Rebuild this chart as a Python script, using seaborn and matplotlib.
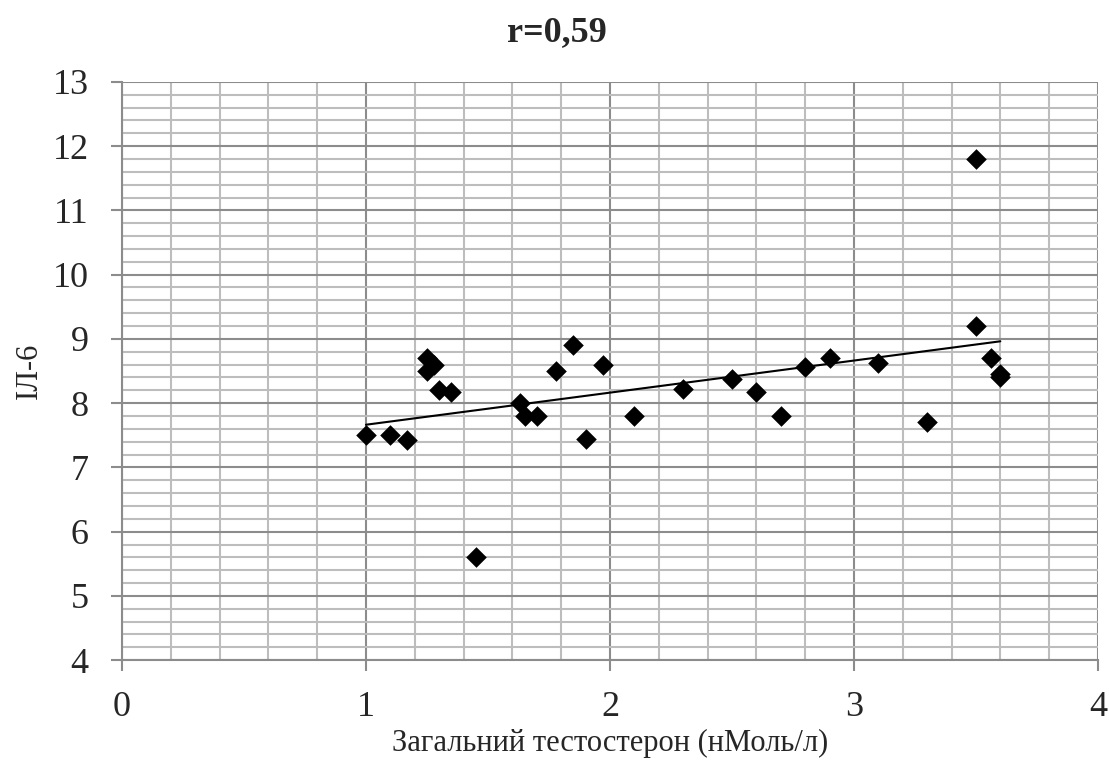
import numpy as np
import pandas as pd
import matplotlib
matplotlib.use("Agg")
import matplotlib.pyplot as plt
import seaborn as sns
from matplotlib.ticker import MultipleLocator

testosterone = [1.00, 1.10, 1.17, 1.25, 1.25, 1.28, 1.30, 1.35, 1.45, 1.63, 1.65, 1.70,
                1.78, 1.85, 1.90, 1.97, 2.10, 2.30, 2.50, 2.60, 2.70, 2.80, 2.90, 3.10,
                3.30, 3.50, 3.50, 3.56, 3.60, 3.60]
il6 = [7.50, 7.50, 7.42, 8.70, 8.50, 8.60, 8.20, 8.18, 5.60, 8.00, 7.80, 7.80,
       8.50, 8.90, 7.44, 8.60, 7.80, 8.22, 8.38, 8.18, 7.80, 8.56, 8.70, 8.62,
       7.70, 11.80, 9.20, 8.70, 8.45, 8.40]

title = "r=0,59"
xlabel = "Загальний тестостерон (нМоль/л)"
ylabel = "ІЛ-6"

df = pd.DataFrame({"x": testosterone, "y": il6})

sns.set_theme(style="white")
plt.rcParams["font.family"] = ["Liberation Serif", "DejaVu Serif"]

fig = plt.figure(figsize=(11.09, 7.65), dpi=100)
ax = fig.add_axes([0.110, 0.137, 0.880, 0.756])

sns.scatterplot(data=df, x="x", y="y", marker="D", s=110, color="black",
                edgecolor="black", linewidth=0, ax=ax, zorder=4)

# linear trend line
k, b = np.polyfit(df["x"], df["y"], 1)
xs = np.array([df["x"].min(), df["x"].max()])
ax.plot(xs, k * xs + b, color="black", lw=1.5, zorder=3)

ax.set_xlim(0, 4)
ax.set_ylim(4, 13)
ax.xaxis.set_major_locator(MultipleLocator(1))
ax.xaxis.set_minor_locator(MultipleLocator(0.2))
ax.yaxis.set_major_locator(MultipleLocator(1))
ax.yaxis.set_minor_locator(MultipleLocator(0.2))
ax.grid(which="major", color="#8c8c8c", lw=1.5, zorder=0)
ax.grid(which="minor", color="#bdbdbd", lw=1.5, zorder=0)
ax.set_axisbelow(True)

for s in ["top", "right"]:
    ax.spines[s].set_visible(False)
for s in ["left", "bottom"]:
    ax.spines[s].set_color("#8c8c8c")
    ax.spines[s].set_linewidth(1.5)

ax.tick_params(axis="both", which="major", labelsize=26, length=8, width=1.5,
               color="#8c8c8c", direction="out", bottom=True, left=True)
ax.tick_params(axis="both", which="minor", length=0)
ax.tick_params(axis="x", pad=14)
ax.tick_params(axis="y", pad=16)

fig.text(0.502, 0.958, title, fontsize=26, fontweight="bold", ha="center", va="center")
ax.set_xlabel(xlabel, fontsize=22, labelpad=4)
ax.set_ylabel(ylabel, fontsize=22, labelpad=6)

fig.savefig("out.png", dpi=100, facecolor="white")
